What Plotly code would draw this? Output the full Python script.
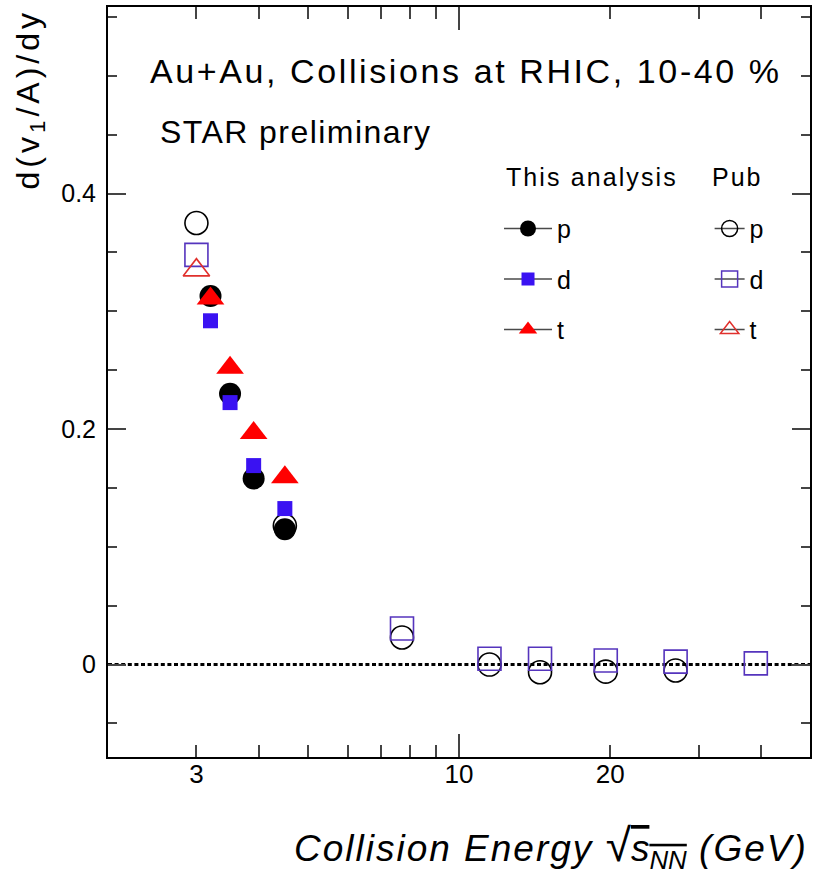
import plotly.graph_objects as go

# ---------------- data ----------------
this_energy = [3.2, 3.5, 3.9, 4.5]
p_this = [0.313, 0.230, 0.158, 0.115]
d_this = [0.292, 0.2225, 0.169, 0.1325]
t_this = [0.311, 0.252, 0.1966, 0.159]

pub_p_energy = [3.0, 4.5, 7.7, 11.5, 14.5, 19.6, 27.0]
pub_p = [0.375, 0.118, 0.023, 0.0, -0.0065, -0.006, -0.005]
pub_d_energy = [3.0, 7.7, 11.5, 14.5, 19.6, 27.0, 39.0]
pub_d = [0.348, 0.0306, 0.005, 0.005, 0.0035, 0.0025, 0.001]
pub_t_energy = [3.0]
pub_t = [0.335]

x_tick_vals = [3, 10, 20]
x_tick_text = ["3", "10", "20"]
x_major_long = [10]
x_minor_vals = [2, 4, 5, 6, 7, 8, 9, 30, 40, 50]
y_tick_vals = [0, 0.2, 0.4]
y_tick_text = ["0", "0.2", "0.4"]
y_minor_vals = [-0.05, 0.05, 0.1, 0.15, 0.25, 0.3, 0.35, 0.45, 0.5, 0.55]

FONT = "Liberation Sans, Arial, Helvetica, sans-serif"
BLUE = "#3a12f2"
BLUE_OPEN = "#5534bd"
RED = "#ff0000"
RED_OPEN = "#e0302c"
LEG_LINE = "#4a4a4a"
XRANGE = [0.30103, 1.69897]


def ls(text, px):
    return f"<span style='letter-spacing:{px}px'>{text}</span>"


fig = go.Figure()

# published (open) markers
fig.add_trace(go.Scatter(x=pub_p_energy, y=pub_p, mode="markers", showlegend=False,
                         marker=dict(symbol="circle-open", size=23, color="black", line=dict(width=1.6))))
fig.add_trace(go.Scatter(x=pub_d_energy, y=pub_d, mode="markers", showlegend=False,
                         marker=dict(symbol="square-open", size=23, color=BLUE_OPEN, line=dict(width=1.6))))
fig.add_trace(go.Scatter(x=pub_t_energy, y=pub_t, mode="markers", showlegend=False,
                         marker=dict(symbol="triangle-up-open", size=23, color=RED_OPEN, line=dict(width=1.6))))

# this analysis (filled)
fig.add_trace(go.Scatter(x=this_energy, y=p_this, mode="markers", showlegend=False,
                         marker=dict(symbol="circle", size=22, color="black")))
fig.add_trace(go.Scatter(x=this_energy, y=d_this, mode="markers", showlegend=False,
                         marker=dict(symbol="square", size=15, color=BLUE)))
fig.add_trace(go.Scatter(x=this_energy, y=t_this, mode="markers", showlegend=False,
                         marker=dict(symbol="triangle-up", size=24, color=RED)))

# legend entries (no data, legend only)
leg_items = [
    ("p", "legend", dict(symbol="circle", size=16, color="black")),
    ("d", "legend", dict(symbol="square", size=13, color=BLUE)),
    ("t", "legend", dict(symbol="triangle-up", size=16, color=RED)),
    ("p", "legend2", dict(symbol="circle-open", size=16, color="black", line=dict(width=1.5))),
    ("d", "legend2", dict(symbol="square-open", size=16, color=BLUE_OPEN, line=dict(width=1.5))),
    ("t", "legend2", dict(symbol="triangle-up-open", size=16, color=RED_OPEN, line=dict(width=1.5))),
]
for i, (name, lg, mk) in enumerate(leg_items):
    fig.add_trace(go.Scatter(x=[None], y=[None], mode="lines+markers", name=name,
                             legend=lg, legendgroup=f"g{i}", showlegend=True,
                             line=dict(color=LEG_LINE, width=1.5), marker=mk))

# overlay axes: long major tick at 10, and tick labels placed close to the frame
fig.add_trace(go.Scatter(x=[None], y=[None], xaxis="x2", showlegend=False, hoverinfo="skip"))
fig.add_trace(go.Scatter(x=[None], y=[None], xaxis="x3", showlegend=False, hoverinfo="skip"))

# zero reference line
fig.add_shape(type="line", xref="paper", x0=0, x1=1, yref="y", y0=0, y1=0,
              line=dict(color="black", width=3, dash="4px,2.6px"), layer="below")

fig.update_layout(
    width=817, height=874, autosize=False,
    margin=dict(l=108, r=5, t=7, b=117),
    paper_bgcolor="white", plot_bgcolor="white",
    font=dict(family=FONT, color="black"),
    xaxis=dict(type="log", range=XRANGE,
               tickmode="array", tickvals=x_tick_vals, showticklabels=False,
               ticks="inside", ticklen=12, tickwidth=2, tickcolor="#444",
               showline=True, linewidth=2, linecolor="black", mirror="ticks",
               showgrid=False, zeroline=False,
               minor=dict(tickmode="array", tickvals=x_minor_vals, ticks="inside",
                          ticklen=12, tickwidth=2, tickcolor="#444", showgrid=False)),
    xaxis2=dict(type="log", range=XRANGE, overlaying="x", anchor="y",
                side="bottom", tickmode="array", tickvals=x_major_long,
                showticklabels=False, ticks="inside", ticklen=23, tickwidth=2,
                tickcolor="#444", showgrid=False, zeroline=False, showline=False,
                mirror="ticks"),
    xaxis3=dict(type="log", range=XRANGE, overlaying="x", anchor="free", position=0.0015,
                side="bottom", tickmode="array", tickvals=x_tick_vals, ticktext=x_tick_text,
                ticks="", showline=False, showgrid=False, zeroline=False,
                tickfont=dict(size=26, family=FONT, color="black")),
    yaxis=dict(range=[-0.0785, 0.5585],
               tickmode="array", tickvals=y_tick_vals, ticktext=y_tick_text,
               ticks="inside", ticklen=18, tickwidth=2, tickcolor="#444",
               showline=True, linewidth=2, linecolor="black", mirror="ticks",
               showgrid=False, zeroline=False, ticklabelstandoff=5,
               tickfont=dict(size=25, family=FONT, color="black"),
               minor=dict(tickmode="array", tickvals=y_minor_vals, ticks="inside",
                          ticklen=9, tickwidth=2, tickcolor="#444", showgrid=False)),
    legend=dict(x=0.557, y=0.735, xanchor="left", yanchor="top",
                bgcolor="rgba(0,0,0,0)", borderwidth=0,
                font=dict(size=25, family=FONT), tracegroupgap=15, itemwidth=48),
    legend2=dict(x=0.857, y=0.735, xanchor="left", yanchor="top",
                 bgcolor="rgba(0,0,0,0)", borderwidth=0,
                 font=dict(size=25, family=FONT), tracegroupgap=15, itemwidth=30),
)

# legend column headers
fig.add_annotation(xref="paper", yref="paper", x=0.564, y=0.7733, xanchor="left", yanchor="middle",
                   text=ls("This analysis", 2.1), showarrow=False,
                   font=dict(size=25, family=FONT, color="black"))
fig.add_annotation(xref="paper", yref="paper", x=0.858, y=0.7733, xanchor="left", yanchor="middle",
                   text=ls("Pub", 2), showarrow=False,
                   font=dict(size=25, family=FONT, color="black"))

fig.add_annotation(xref="paper", yref="paper", x=0.0568, y=0.9147, xanchor="left", yanchor="middle",
                   text=ls("Au+Au, Collisions at RHIC, 10-40 %", 2.6), showarrow=False,
                   font=dict(size=34, family=FONT, color="black"))
fig.add_annotation(xref="paper", yref="paper", x=0.071, y=0.8327, xanchor="left", yanchor="middle",
                   text=ls("STAR preliminary", 1.45), showarrow=False,
                   font=dict(size=32, family=FONT, color="black"))
fig.add_annotation(xref="paper", yref="paper", x=0, y=1, xanchor="right", yanchor="top",
                   xshift=-56, yshift=-1, textangle=-90,
                   text=ls("d(v<sub>1</sub>/A)/dy", 4), showarrow=False,
                   font=dict(size=32, family=FONT, color="black"))
fig.add_annotation(xref="paper", yref="paper", x=1, y=0, xanchor="right", yanchor="top",
                   xshift=0, yshift=-60,
                   text=ls("<i>Collision Energy </i>", 2)
                        + "<span style='font-size:46px'>√</span>"
                        + "<span style='text-decoration:overline'><i>s<sub>NN</sub></i></span>"
                        + ls("<i> (GeV)</i>", 2),
                   showarrow=False, font=dict(size=37, family=FONT, color="black"))

fig.write_html("out.html")
